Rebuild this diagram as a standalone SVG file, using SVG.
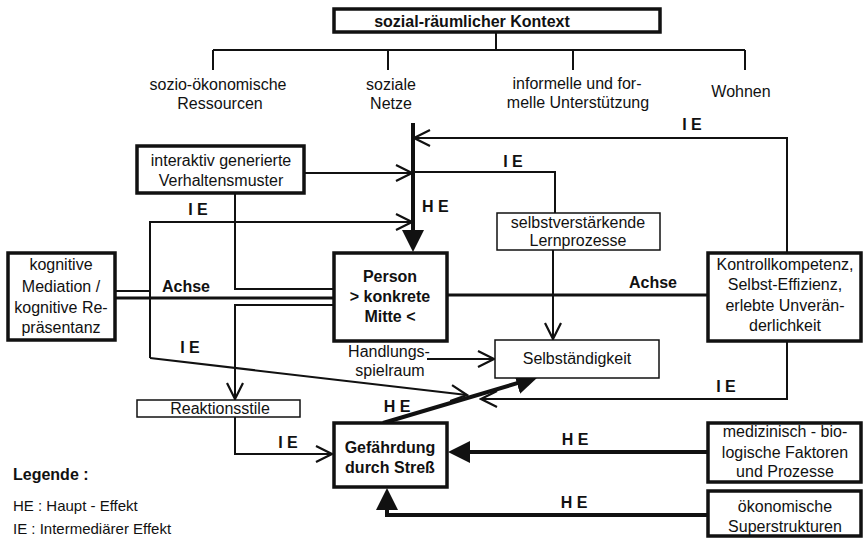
<svg xmlns="http://www.w3.org/2000/svg" width="863" height="538" viewBox="0 0 863 538">
<style>
text{font-family:"Liberation Sans",Arial,sans-serif;font-size:16px;fill:#111;text-anchor:middle}
.b{font-weight:bold}
.l{text-anchor:start}
.thick{fill:#fff;stroke:#111;stroke-width:3.5}
.thin{fill:#fff;stroke:#111;stroke-width:1.5}
.c{fill:none;stroke:#111;stroke-width:2}
.cm{fill:none;stroke:#111;stroke-width:3}
.ct{fill:none;stroke:#111;stroke-width:4}
</style>
<defs>
<marker id="open" viewBox="0 0 20 20" refX="18" refY="10" markerWidth="20" markerHeight="20" markerUnits="userSpaceOnUse" orient="auto">
<path d="M2,2 L18,10 L2,18" fill="none" stroke="#111" stroke-width="2.2"/>
</marker>
<marker id="fill" viewBox="0 0 22 22" refX="10" refY="11" markerWidth="22" markerHeight="22" markerUnits="userSpaceOnUse" orient="auto">
<path d="M0,0 L22,11 L0,22 z" fill="#111"/>
</marker>
</defs>
<rect width="863" height="538" fill="#fff"/>

<g id="connectors">
<path class="c" d="M496,32 V50 M213,50 H745 M213,50 V70 M388,50 V70 M573,50 V70 M745,50 V70"/>
<path class="ct" d="M413,123 V240" marker-end="url(#fill)"/>
<path class="c" d="M787,252 V138 H414" marker-end="url(#open)"/>
<path class="c" d="M555,213 V172 H413"/>
<path class="c" d="M304,173 H412" marker-end="url(#open)"/>
<path class="c" d="M150,358 V222 H412" marker-end="url(#open)"/>
<path class="c" d="M235,193 V289 H333"/>
<path class="c" d="M333,305 H235 V399" marker-end="url(#open)"/>
<path class="c" d="M115,291 H150"/>
<path class="cm" d="M115,298 H333"/>
<path class="cm" d="M447,295 H707"/>
<path class="c" d="M553,250 V339" marker-end="url(#open)"/>
<path class="c" d="M427,359 H494" marker-end="url(#open)"/>
<path class="c" d="M150,358 L467,395" marker-end="url(#open)"/>
<path class="ct" d="M383,423 L526.5,380.4" marker-end="url(#fill)"/>
<path class="c" d="M787,341 V399 H481" marker-end="url(#open)"/>
<path class="c" d="M235,417 V454 H332" marker-end="url(#open)"/>
<path class="ct" d="M707,452 H460" marker-end="url(#fill)"/>
<path class="ct" d="M707,515 H387 V500" marker-end="url(#fill)"/>
</g>

<g id="labels">
<text x="218" y="90">sozio-ökonomische</text>
<text x="220" y="109">Ressourcen</text>
<text x="391" y="90">soziale</text>
<text x="391" y="109">Netze</text>
<text x="577" y="89">informelle und for-</text>
<text x="578" y="108">melle Unterstützung</text>
<text x="741" y="97">Wohnen</text>
<text class="b" x="692" y="130">I E</text>
<text class="b" x="513" y="167">I E</text>
<text class="b l" x="422" y="212">H E</text>
<text class="b" x="198" y="215">I E</text>
<text class="b" x="186" y="292">Achse</text>
<text class="b" x="653" y="288">Achse</text>
<text class="b" x="190" y="353">I E</text>
<text x="389" y="357">Handlungs-</text>
<text x="390" y="376">spielraum</text>
<text class="b" x="397" y="412">H E</text>
<text class="b" x="726" y="392">I E</text>
<text class="b" x="288" y="448">I E</text>
<text class="b" x="575" y="445">H E</text>
<text class="b" x="574" y="508">H E</text>
</g>

<g id="kontext">
<rect class="thick" x="334" y="9" width="326" height="23"/>
<text class="b" x="472" y="27">sozial-räumlicher Kontext</text>
</g>
<g id="verhaltensmuster">
<rect class="thick" x="137" y="146" width="167" height="47"/>
<text x="221" y="166">interaktiv generierte</text>
<text x="221" y="186">Verhaltensmuster</text>
</g>
<g id="lernprozesse">
<rect class="thin" x="497" y="213" width="163" height="37"/>
<text x="578" y="228">selbstverstärkende</text>
<text x="578" y="246">Lernprozesse</text>
</g>
<g id="kognitive">
<rect class="thick" x="8" y="253" width="107" height="87"/>
<text x="61" y="270">kognitive</text>
<text x="61" y="292">Mediation /</text>
<text x="61" y="313">kognitive Re-</text>
<text x="61" y="333">präsentanz</text>
</g>
<g id="person">
<rect class="thick" x="334" y="253" width="113" height="88"/>
<text class="b" x="390" y="282">Person</text>
<text class="b" x="390" y="302">&gt; konkrete</text>
<text class="b" x="390" y="322">Mitte &lt;</text>
</g>
<g id="kontrollkompetenz">
<rect class="thick" x="708" y="253" width="153" height="88"/>
<text x="785" y="270">Kontrollkompetenz,</text>
<text x="785" y="290">Selbst-Effizienz,</text>
<text x="785" y="311">erlebte Unverän-</text>
<text x="785" y="331">derlichkeit</text>
</g>
<g id="selbstaendigkeit">
<rect class="thin" x="495" y="340" width="164" height="38"/>
<text x="577" y="364">Selbständigkeit</text>
</g>
<g id="reaktionsstile">
<rect class="thin" x="137" y="400" width="163" height="17"/>
<text x="220" y="414">Reaktionsstile</text>
</g>
<g id="gefaehrdung">
<rect class="thick" x="334" y="423" width="113" height="64"/>
<text class="b" x="390" y="453">Gefährdung</text>
<text class="b" x="390" y="473">durch Streß</text>
</g>
<g id="medizinisch">
<rect class="thick" x="708" y="423" width="153" height="59"/>
<text x="785" y="437">medizinisch - bio-</text>
<text x="785" y="458">logische Faktoren</text>
<text x="785" y="477">und Prozesse</text>
</g>
<g id="oekonomisch">
<rect class="thick" x="708" y="491" width="153" height="45"/>
<text x="785" y="512">ökonomische</text>
<text x="785" y="532">Superstrukturen</text>
</g>
<g id="legende">
<text class="b l" x="13" y="480">Legende :</text>
<text class="l" x="13" y="511" style="font-size:15px">HE : Haupt - Effekt</text>
<text class="l" x="13" y="534" style="font-size:15px">IE  : Intermediärer Effekt</text>
</g>
</svg>
